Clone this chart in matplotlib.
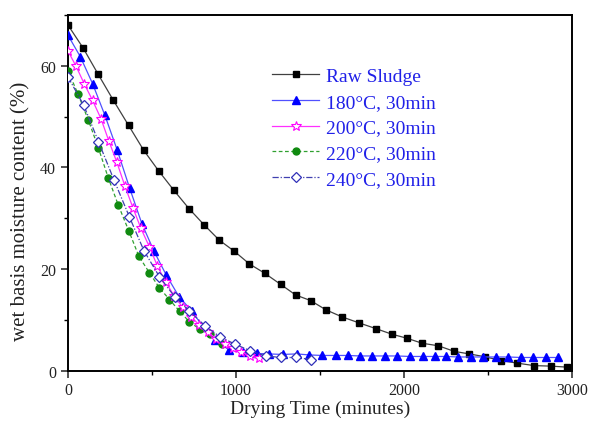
import matplotlib
matplotlib.use("Agg")
import matplotlib.pyplot as plt
from matplotlib.ticker import MultipleLocator

plt.rcParams['font.family'] = ['Liberation Serif', 'DejaVu Serif']
plt.rcParams['mathtext.fontset'] = 'stix'

# ---- data ----
raw_t = [0, 90, 180, 270, 360, 450, 540, 630, 720, 810, 900, 990, 1080, 1170, 1265,
         1355, 1444, 1534, 1630, 1733, 1831, 1926, 2016, 2108, 2205, 2299, 2389, 2481,
         2576, 2672, 2774, 2875, 2971]
raw_m = [68.0, 63.5, 58.3, 53.2, 48.3, 43.4, 39.3, 35.5, 31.9, 28.7, 25.7, 23.5, 21.0,
         19.2, 17.0, 14.9, 13.8, 12.0, 10.6, 9.4, 8.3, 7.2, 6.4, 5.4, 4.9, 3.8, 3.3, 2.75,
         2.0, 1.5, 1.0, 0.9, 0.7]

t180_t = [0, 73, 146, 219, 293, 366, 440, 512, 585, 660, 735, 805, 875, 958, 1040, 1122,
          1195, 1277, 1361, 1437, 1513, 1593, 1665, 1736, 1810, 1885, 1957, 2035, 2114,
          2182, 2252, 2321, 2397, 2471, 2547, 2621, 2695, 2770, 2846, 2918]
t180_m = [66.0, 61.8, 56.5, 50.3, 43.4, 36.0, 28.9, 23.5, 18.8, 14.6, 11.8, 8.6, 6.0, 4.1,
          3.6, 3.4, 3.3, 3.2, 3.3, 3.1, 3.0, 3.0, 3.0, 2.9, 2.9, 2.9, 2.9, 2.8, 2.8, 2.8,
          2.8, 2.7, 2.7, 2.7, 2.7, 2.7, 2.6, 2.6, 2.6, 2.6]

t200_t = [0, 48, 96, 146, 196, 243, 291, 339, 387, 434, 484, 532, 582, 632, 682, 732,
          782, 832, 882, 932, 982, 1032, 1082, 1138]
t200_m = [62.9, 59.9, 56.5, 53.2, 49.6, 45.2, 41.0, 36.3, 32.0, 28.0, 24.4, 20.6, 17.4,
          14.7, 12.5, 10.6, 9.0, 7.6, 6.3, 5.2, 4.4, 3.7, 2.9, 2.4]

t220_t = [0, 60, 120, 180, 239, 299, 362, 422, 484, 544, 604, 664, 723, 783, 847, 917]
t220_m = [59.0, 54.4, 49.4, 43.9, 38.0, 32.6, 27.5, 22.5, 19.3, 16.3, 14.0, 11.7, 9.6,
          8.2, 7.2, 5.2]

t240_t = [0, 94, 181, 274, 365, 452, 544, 634, 723, 817, 907, 996, 1086, 1176, 1267,
          1357, 1449]
t240_m = [57.8, 52.2, 45.1, 37.5, 30.3, 23.6, 18.5, 14.6, 11.7, 8.8, 6.6, 5.2, 3.9, 2.9,
          2.6, 2.6, 2.2]

labels = ['Raw Sludge', '180°C, 30min', '200°C, 30min', '220°C, 30min', '240°C, 30min']

fig = plt.figure(figsize=(5.9, 4.31), dpi=100)
ax = fig.add_axes([0.1153, 0.1376, 0.8542, 0.8253])

ax.plot(raw_t, raw_m, color='#404040', lw=0.9, marker='s', ms=5.0,
        mfc='black', mec='black', label=labels[0], zorder=3)
ax.plot(t180_t, t180_m, color='#5050ff', lw=0.9, marker='^', ms=6.2,
        mfc='#0000ff', mec='#0000ff', label=labels[1], zorder=3)
ax.plot(t200_t, t200_m, color='#ff30ff', lw=0.9, marker='*', ms=7.2,
        mfc='white', mec='#ff00ff', mew=0.8, label=labels[2], zorder=4)
ax.plot(t220_t, t220_m, color='#30a030', lw=0.9, ls=(0, (3, 2)), marker='o', ms=5.0,
        mfc='#108a10', mec='#108a10', label=labels[3], zorder=3)
ax.plot(t240_t, t240_m, color='#4040b0', lw=0.9, ls=(0, (5, 1.5, 1, 1.5)), marker='D',
        ms=5.3, mfc='white', mec='#3030b8', mew=0.9, label=labels[4], zorder=5)

ax.set_xlim(0, 3000)
ax.set_ylim(0, 70)
ax.xaxis.set_major_locator(MultipleLocator(1000))
ax.xaxis.set_minor_locator(MultipleLocator(500))
ax.yaxis.set_major_locator(MultipleLocator(20))
ax.yaxis.set_minor_locator(MultipleLocator(10))
ax.tick_params(which='major', direction='out', length=5, width=1.1, labelsize=11.5,
               colors='#222222', top=False, right=False)
ax.tick_params(which='minor', direction='out', length=3, width=1.0, top=False, right=False)
for s in ax.spines.values():
    s.set_linewidth(1.4)

ax.set_xlabel('Drying Time (minutes)', fontsize=14, labelpad=1, color='#222222')
ax.set_ylabel('wet basis moisture content (%)', fontsize=15, color='#222222')
ax.yaxis.set_label_coords(-0.074, 0.452)

ax.legend(loc='upper left', bbox_to_anchor=(0.39, 0.875), frameon=False, fontsize=14,
          handlelength=2.4, handletextpad=0.35, labelspacing=0.42, labelcolor='#2020e8',
          borderaxespad=0)

fig.savefig('out.png', dpi=100)
